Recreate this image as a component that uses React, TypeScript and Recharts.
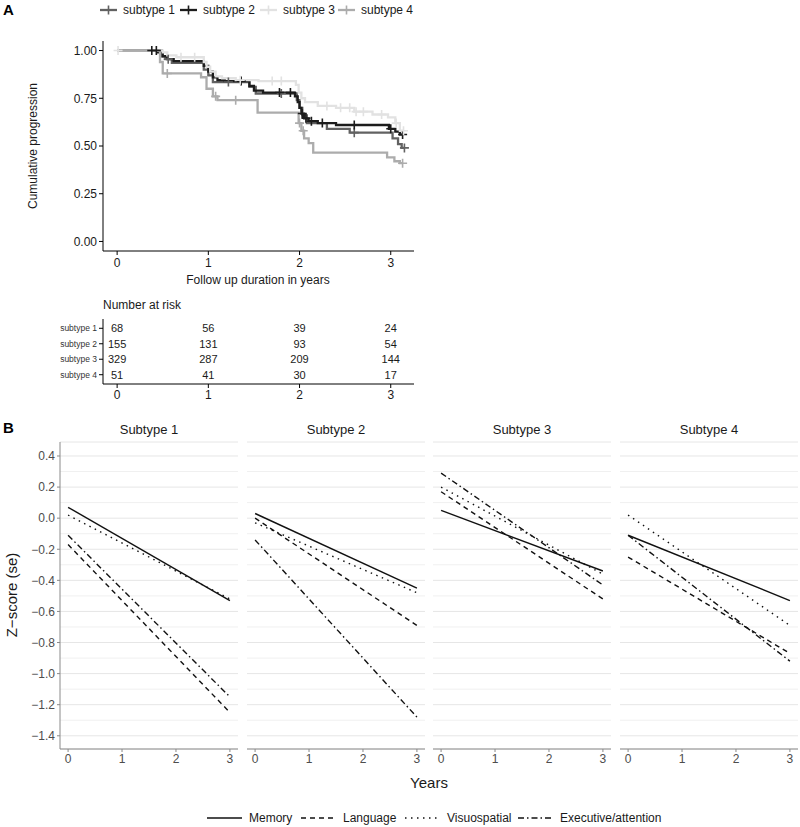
import React from "react";
import {
  ComposedChart,
  LineChart,
  ScatterChart,
  Line,
  Scatter,
  XAxis,
  YAxis,
  CartesianGrid,
  ReferenceLine,
} from "recharts";

const FONT = "'Liberation Sans', Arial, Helvetica, sans-serif";

// ---- panel A: progression curves ----
const subtypes = ["subtype 1", "subtype 2", "subtype 3", "subtype 4"];
const kmColors = ["#626262", "#1c1c1c", "#e2e2e2", "#acacac"];

const s1Times = [0.49, 0.53, 0.6, 0.95, 1.0, 1.05, 1.45, 1.52, 1.97, 2.0, 2.03, 2.08, 2.3, 2.55, 3.02, 3.08, 3.12];
const s1Surv = [0.97, 0.955, 0.935, 0.9, 0.87, 0.835, 0.81, 0.775, 0.74, 0.7, 0.66, 0.62, 0.59, 0.57, 0.54, 0.51, 0.49];
const s1Censor = [0.56, 1.22, 1.8, 2.6, 3.15];

const s2Times = [0.45, 0.5, 0.55, 0.62, 0.95, 1.0, 1.05, 1.1, 1.18, 1.45, 1.5, 1.6, 1.95, 1.98, 2.0, 2.02, 2.05, 2.1, 2.2, 2.4, 2.98, 3.05, 3.1];
const s2Surv = [0.99, 0.97, 0.955, 0.945, 0.92, 0.89, 0.86, 0.845, 0.84, 0.815, 0.79, 0.78, 0.76, 0.73, 0.7, 0.67, 0.645, 0.63, 0.62, 0.61, 0.59, 0.575, 0.56];
const s2Censor = [0.38, 0.43, 1.36, 1.78, 1.9, 2.03, 2.07, 2.13, 2.25, 2.6, 3.0, 3.13];

const s3Times = [0.5, 0.55, 0.65, 0.95, 0.98, 1.02, 1.08, 1.15, 1.3, 1.55, 1.96, 1.99, 2.02, 2.06, 2.2, 2.4, 2.6, 2.8, 2.97, 3.05, 3.1];
const s3Surv = [0.99, 0.975, 0.965, 0.94, 0.915, 0.89, 0.865, 0.855, 0.845, 0.84, 0.82, 0.78, 0.75, 0.73, 0.71, 0.7, 0.68, 0.665, 0.65, 0.62, 0.58];
const s3Censor = [0.01, 0.7, 0.85, 1.35, 1.7, 1.8, 2.3, 2.45, 2.55, 2.62, 2.7, 2.9, 3.06, 3.14];

const s4Times = [0.47, 0.5, 0.92, 0.98, 1.05, 1.1, 1.54, 1.99, 2.02, 2.05, 2.1, 2.15, 2.96, 3.04, 3.1];
const s4Surv = [0.94, 0.88, 0.86, 0.8, 0.76, 0.74, 0.675, 0.62, 0.58, 0.54, 0.515, 0.465, 0.44, 0.42, 0.41];
const s4Censor = [0.55, 1.08, 1.3, 2.0, 2.04, 3.13];

const kmEnd = [3.15, 3.13, 3.14, 3.13];
const kmTimes = [s1Times, s2Times, s3Times, s4Times];
const kmSurv = [s1Surv, s2Surv, s3Surv, s4Surv];
const kmCensor = [s1Censor, s2Censor, s3Censor, s4Censor];

// ---- number at risk ----
const riskTimes = [0, 1, 2, 3];
const risk1 = [68, 56, 39, 24];
const risk2 = [155, 131, 93, 54];
const risk3 = [329, 287, 209, 144];
const risk4 = [51, 41, 30, 17];
const riskRows = [risk1, risk2, risk3, risk4];

// ---- panel B: trajectories ----
const panelTitles = ["Subtype 1", "Subtype 2", "Subtype 3", "Subtype 4"];
const years = [0, 3];
const memory = [[0.07, -0.53], [0.03, -0.45], [0.05, -0.34], [-0.11, -0.53]];
const language = [[-0.17, -1.25], [0.0, -0.69], [0.17, -0.52], [-0.25, -0.87]];
const visuospatial = [[0.02, -0.52], [-0.03, -0.48], [0.2, -0.36], [0.02, -0.69]];
const executive = [[-0.11, -1.15], [-0.14, -1.28], [0.29, -0.43], [-0.11, -0.92]];
const zTicks = [-1.4, -1.2, -1.0, -0.8, -0.6, -0.4, -0.2, 0, 0.2, 0.4];
const zMinor = [-1.3, -1.1, -0.9, -0.7, -0.5, -0.3, -0.1, 0.1, 0.3];

const domains = [
  { key: "memory", label: "Memory", dash: undefined },
  { key: "language", label: "Language", dash: "5 4" },
  { key: "visuospatial", label: "Visuospatial", dash: "1.5 4.5" },
  { key: "executive", label: "Executive/attention", dash: "6 3 1.5 3" },
];

function kmSeries(times: number[], surv: number[], end: number) {
  const pts = [{ t: 0, s: 1 }];
  times.forEach((t, i) => pts.push({ t, s: surv[i] }));
  pts.push({ t: end, s: surv[surv.length - 1] });
  return pts;
}

function survAt(times: number[], surv: number[], t: number) {
  let s = 1;
  times.forEach((tt, i) => {
    if (tt <= t) s = surv[i];
  });
  return s;
}

const plusShape = (color: string) => (props: any) => {
  const { cx, cy } = props;
  return (
    <path
      d={`M${cx - 4.5},${cy}H${cx + 4.5}M${cx},${cy - 4.5}V${cy + 4.5}`}
      stroke={color}
      strokeWidth={1.6}
      fill="none"
    />
  );
};

const RiskText = (props: any) => (
  <text
    x={props.cx}
    y={props.cy}
    textAnchor="middle"
    dominantBaseline="central"
    fontSize={11}
    fill="#1a1a1a"
  >
    {props.payload.n}
  </text>
);

const kmTick = { fontSize: 12, fill: "#1a1a1a" };

function KMChart() {
  return (
    <ComposedChart width={420} height={281} margin={{ top: 41, right: 6, bottom: 0, left: 0 }}>
      <XAxis
        type="number"
        dataKey="t"
        domain={[-0.155, 3.255]}
        ticks={[0, 1, 2, 3]}
        allowDataOverflow
        height={30}
        stroke="#000"
        tickSize={4}
        tickMargin={3}
        tick={kmTick}
      />
      <YAxis
        type="number"
        dataKey="s"
        domain={[-0.05, 1.05]}
        ticks={[0, 0.25, 0.5, 0.75, 1]}
        tickFormatter={(v: number) => v.toFixed(2)}
        allowDataOverflow
        width={103}
        stroke="#000"
        tickSize={4}
        tickMargin={2}
        tick={kmTick}
      />
      {subtypes.map((name, i) => (
        <Line
          key={name}
          data={kmSeries(kmTimes[i], kmSurv[i], kmEnd[i])}
          dataKey="s"
          type="stepAfter"
          stroke={kmColors[i]}
          strokeWidth={2.3}
          dot={false}
          isAnimationActive={false}
        />
      ))}
      {subtypes.map((name, i) => (
        <Scatter
          key={name + "c"}
          data={kmCensor[i].map((t) => ({ t, s: survAt(kmTimes[i], kmSurv[i], t) }))}
          dataKey="s"
          shape={plusShape(kmColors[i])}
          isAnimationActive={false}
        />
      ))}
    </ComposedChart>
  );
}

function RiskTable() {
  const data = riskRows.flatMap((row, r) =>
    row.map((n, j) => ({ t: riskTimes[j], row: 4 - r, n }))
  );
  return (
    <ScatterChart width={420} height={98} margin={{ top: 8, right: 6, bottom: 0, left: 0 }}>
      <XAxis
        type="number"
        dataKey="t"
        domain={[-0.155, 3.255]}
        ticks={[0, 1, 2, 3]}
        allowDataOverflow
        height={25}
        stroke="#000"
        tickSize={4}
        tickMargin={2}
        tick={kmTick}
      />
      <YAxis
        type="number"
        dataKey="row"
        domain={[0.4, 4.6]}
        ticks={[1, 2, 3, 4]}
        tickFormatter={(v: number) => subtypes[4 - v]}
        width={103}
        stroke="#000"
        tickSize={4}
        tickMargin={2}
        tick={{ fontSize: 8.5, fill: "#333" }}
      />
      <Scatter data={data} shape={RiskText} isAnimationActive={false} />
    </ScatterChart>
  );
}

function Panel({ idx, left, width, showY }: { idx: number; left: number; width: number; showY: boolean }) {
  const data = years.map((y, j) => ({
    year: y,
    memory: memory[idx][j],
    language: language[idx][j],
    visuospatial: visuospatial[idx][j],
    executive: executive[idx][j],
  }));
  return (
    <div style={{ position: "absolute", left, top: 436 }}>
      <LineChart
        width={width}
        height={343}
        data={data}
        margin={{ top: 6, right: 2, bottom: 0, left: showY ? 0 : 2 }}
      >
        {zMinor.map((v) => (
          <ReferenceLine key={v} y={v} stroke="#f0f0f0" strokeWidth={1} />
        ))}
        <CartesianGrid vertical={false} stroke="#e6e6e6" />
        <XAxis
          type="number"
          dataKey="year"
          domain={[-0.15, 3.15]}
          ticks={[0, 1, 2, 3]}
          height={30}
          stroke="#8a8a8a"
          tickSize={3}
          tickMargin={2}
          tick={{ fontSize: 12, fill: "#4d4d4d" }}
        />
        <YAxis
          hide={!showY}
          type="number"
          domain={[-1.485, 0.49]}
          ticks={zTicks}
          allowDataOverflow
          tickFormatter={(v: number) => (v < 0 ? "\u2212" + Math.abs(v).toFixed(1) : v.toFixed(1))}
          width={60}
          stroke="#8a8a8a"
          tickSize={3}
          tickMargin={2}
          tick={{ fontSize: 12, fill: "#4d4d4d" }}
        />
        {domains.map((d) => (
          <Line
            key={d.key}
            dataKey={d.key}
            type="linear"
            stroke="#111"
            strokeWidth={1.4}
            strokeDasharray={d.dash}
            dot={false}
            isAnimationActive={false}
          />
        ))}
      </LineChart>
    </div>
  );
}

const panelLefts = [0, 245, 431, 618];
const panelWidths = [240, 182, 182, 182];
const panelCenters = [149, 336, 522, 709];

const kmLegendKeyX = [100, 180, 260, 338];
const bLegendKeyX = [207, 301, 405, 518];

export default function App() {
  return (
    <div
      style={{
        position: "absolute",
        left: 0,
        top: 0,
        width: 800,
        height: 827,
        background: "#fff",
        fontFamily: FONT,
      }}
    >
      <div style={{ position: "absolute", left: 0, top: 0 }}>
        <KMChart />
      </div>
      <div style={{ position: "absolute", left: 0, top: 311 }}>
        <RiskTable />
      </div>
      {panelTitles.map((t, i) => (
        <Panel key={t} idx={i} left={panelLefts[i]} width={panelWidths[i]} showY={i === 0} />
      ))}
      <svg
        width={800}
        height={827}
        style={{ position: "absolute", left: 0, top: 0, pointerEvents: "none", fontFamily: FONT }}
      >
        <text x={3} y={15} fontSize={15} fontWeight="bold" fill="#000">A</text>
        <text x={3} y={433} fontSize={15} fontWeight="bold" fill="#000">B</text>

        {subtypes.map((name, i) => {
          const x = kmLegendKeyX[i];
          return (
            <g key={name}>
              <line x1={x} x2={x + 17} y1={10} y2={10} stroke={kmColors[i]} strokeWidth={2.3} />
              <path d={`M${x + 4},10H${x + 13}M${x + 8.5},5.5V14.5`} stroke={kmColors[i]} strokeWidth={1.6} />
              <text x={x + 23} y={10} dominantBaseline="central" fontSize={12} fill="#1a1a1a">
                {name}
              </text>
            </g>
          );
        })}

        <text
          transform="translate(33,146) rotate(-90)"
          textAnchor="middle"
          dominantBaseline="central"
          fontSize={12}
          fill="#1a1a1a"
        >
          Cumulative progression
        </text>
        <text x={258} y={280} textAnchor="middle" dominantBaseline="central" fontSize={12} fill="#1a1a1a">
          Follow up duration in years
        </text>
        <text x={103} y={305} dominantBaseline="central" fontSize={12} fill="#1a1a1a">
          Number at risk
        </text>

        {panelTitles.map((t, i) => (
          <text
            key={t}
            x={panelCenters[i]}
            y={429}
            textAnchor="middle"
            dominantBaseline="central"
            fontSize={13}
            fill="#1a1a1a"
          >
            {t}
          </text>
        ))}
        <text
          transform="translate(11,595) rotate(-90)"
          textAnchor="middle"
          dominantBaseline="central"
          fontSize={15}
          fill="#1a1a1a"
        >
          Z−score (se)
        </text>
        <text x={429} y={782} textAnchor="middle" dominantBaseline="central" fontSize={15} fill="#1a1a1a">
          Years
        </text>

        {domains.map((d, i) => {
          const x = bLegendKeyX[i];
          return (
            <g key={d.key}>
              <line x1={x} x2={x + 35} y1={818} y2={818} stroke="#111" strokeWidth={1.4} strokeDasharray={d.dash} />
              <text x={x + 42} y={818} dominantBaseline="central" fontSize={12} fill="#1a1a1a">
                {d.label}
              </text>
            </g>
          );
        })}
      </svg>
    </div>
  );
}
